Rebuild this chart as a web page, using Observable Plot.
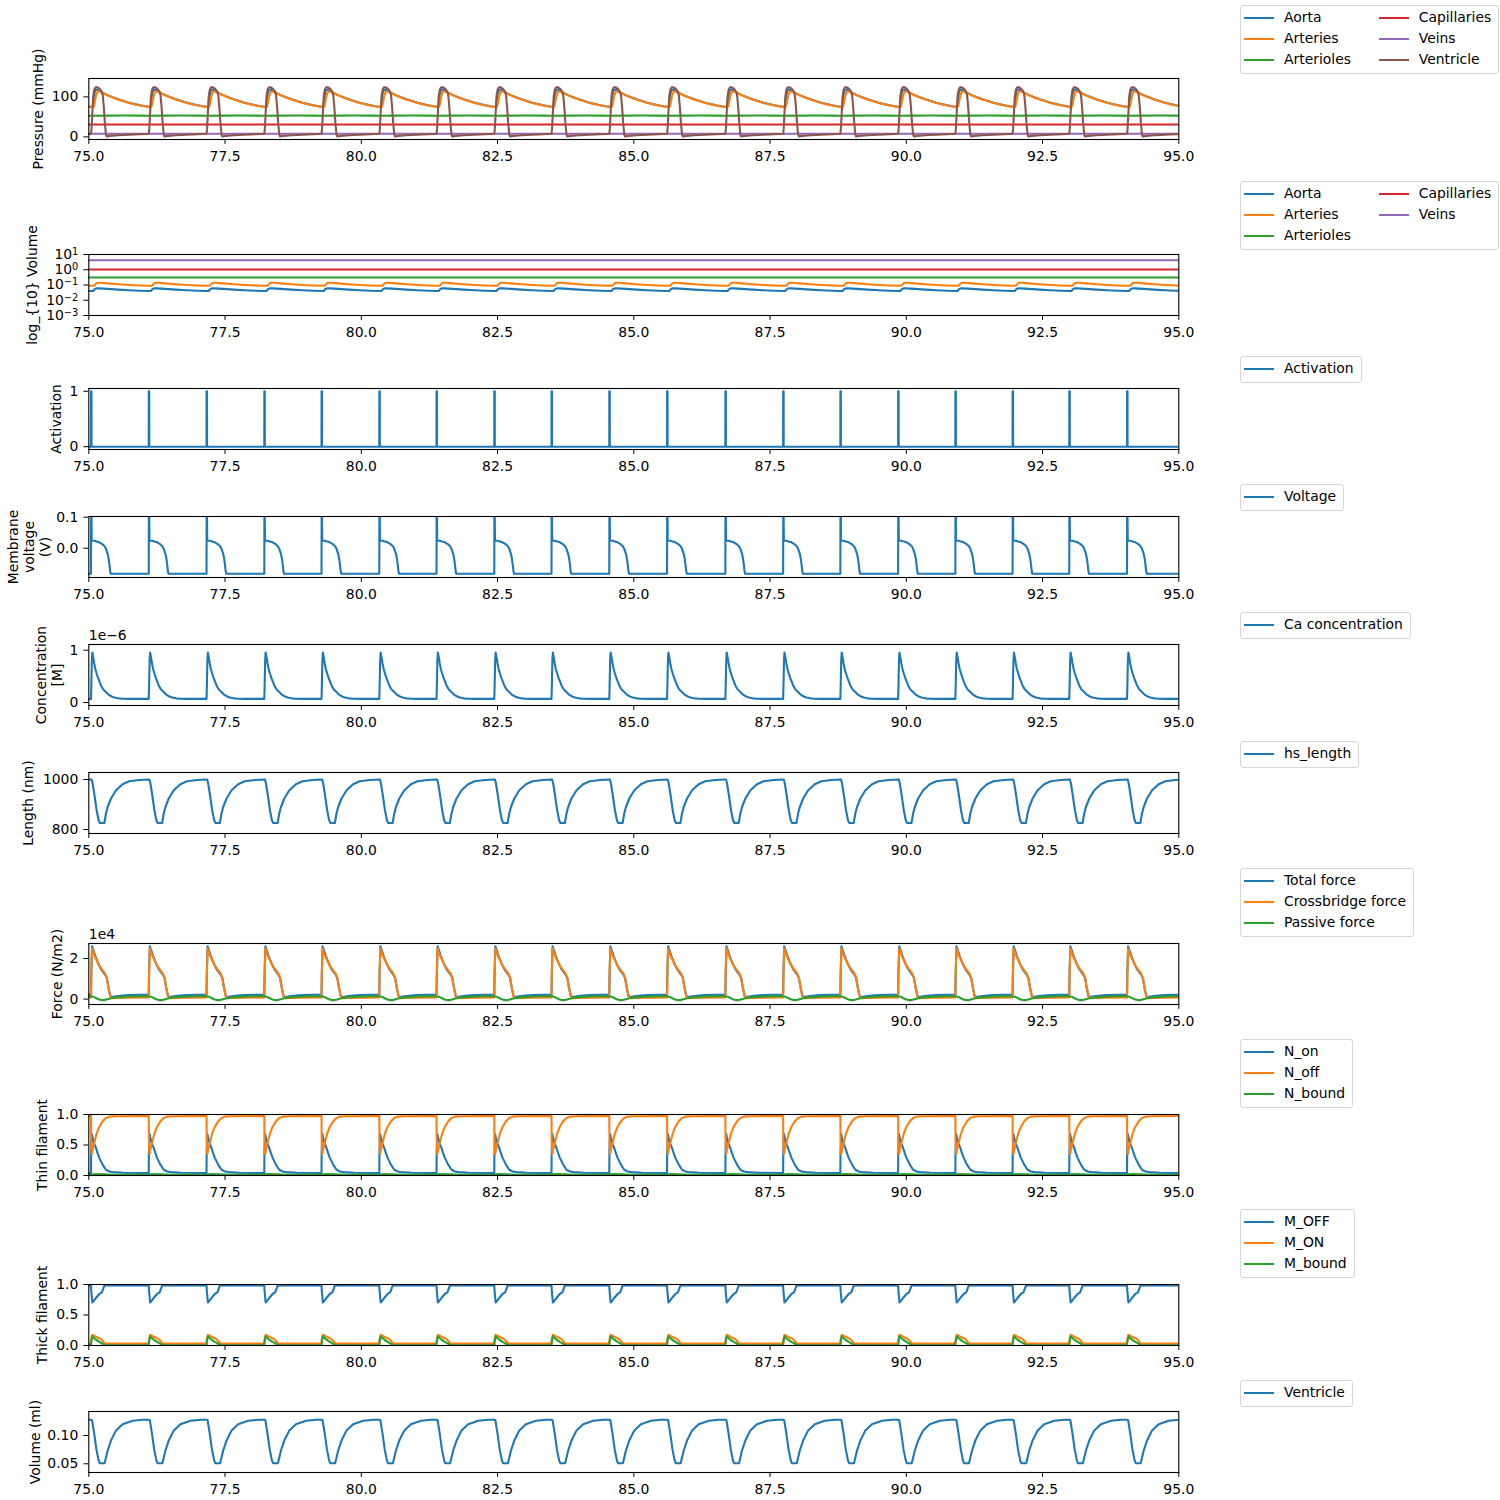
<!DOCTYPE html>
<html><head><meta charset="utf-8">
<script src="https://cdn.jsdelivr.net/npm/d3@7"></script>
<script src="https://cdn.jsdelivr.net/npm/@observablehq/plot@0.6"></script>
<style>
body{margin:0;background:#fff;font-family:"DejaVu Sans",sans-serif;}
#fig{position:relative;width:1500px;height:1500px;overflow:hidden;background:#fff;}
.panel{position:absolute;left:0;}
.legend{position:absolute;box-sizing:border-box;border:1px solid #d6d6d6;border-radius:3px;background:#fff;padding:1px 7px 3px 3px;display:grid;grid-auto-flow:column;column-gap:27.8px;font-size:13.9px;line-height:21px;color:#000;}
.item{display:flex;align-items:center;white-space:nowrap;height:21px;}
.handle{width:30px;height:2px;margin-right:10px;flex:none;}
</style></head><body><div id="fig"></div><script>
// ---------- data ----------
const xTicks = [75, 77.5, 80, 82.5, 85, 87.5, 90, 92.5, 95];
// beat onset times (s)
const beats = [75.04, 76.10, 77.16, 78.22, 79.27, 80.33, 81.38, 82.44, 83.49, 84.55, 85.61, 86.68, 87.74, 88.79, 89.85, 90.90, 91.95, 92.99, 94.05];

// one-beat waveforms: [time after onset (s), value]
const pAorta = [[0,75.5],[0.035,76],[0.05,95],[0.065,110],[0.085,117.5],[0.11,118.5],[0.14,116.5],[0.18,113],[0.22,110],[0.3,104.5],[0.4,99],[0.5,94],[0.6,89.5],[0.7,85.5],[0.8,82],[0.9,79],[1.0,76.5],[1.06,75.5]];
const pArteries = [[0,75],[0.05,75.5],[0.07,88],[0.09,102],[0.11,110.5],[0.13,113.5],[0.16,113.5],[0.2,111],[0.3,104],[0.4,98.5],[0.5,93.5],[0.6,89],[0.7,85],[0.8,81.5],[0.9,78.5],[1.0,76],[1.06,75]];
const pArterioles = [[0,53],[0.3,53.2],[0.6,53.6],[0.9,53.3],[1.06,53]];
const pCapillaries = [[0,31],[1.06,31]];
const pVeins = [[0,8],[1.06,8]];
const pVentricle = [[0,8],[0.01,20],[0.025,60],[0.04,100],[0.06,118],[0.085,124],[0.12,124],[0.16,120],[0.195,114],[0.215,105],[0.235,75],[0.255,35],[0.275,6],[0.29,1],[0.35,2.5],[0.5,4],[0.7,5.5],[0.9,7],[1.06,8]];

const vAorta = [[0,0.040],[0.04,0.0405],[0.06,0.05],[0.08,0.057],[0.11,0.061],[0.15,0.0605],[0.3,0.056],[0.5,0.05],[0.7,0.0455],[0.9,0.042],[1.06,0.040]];
const vArteries = [[0,0.089],[0.06,0.09],[0.08,0.11],[0.1,0.13],[0.13,0.14],[0.17,0.139],[0.3,0.127],[0.5,0.111],[0.7,0.1],[0.9,0.093],[1.06,0.089]];
const vArterioles = [[0,0.31],[1.06,0.31]];
const vCapillaries = [[0,1.05],[1.06,1.05]];
const vVeins = [[0,4.2],[1.06,4.2]];

const activation = [[0,0],[0.001,1],[0.009,1],[0.01,0],[1.06,0]];
const voltage = [[0,-0.0826],[0.002,0.1],[0.009,0.1],[0.013,0.025],[0.06,0.024],[0.1,0.022],[0.153,0.019],[0.214,0.012],[0.25,0.006],[0.275,-0.002],[0.306,-0.018],[0.325,-0.035],[0.338,-0.052],[0.35,-0.072],[0.362,-0.0826],[1.06,-0.0826]];
const calcium = [[0,0.069],[0.006,0.3],[0.016,0.8],[0.025,0.955],[0.04,0.87],[0.06,0.746],[0.08,0.64],[0.104,0.554],[0.13,0.47],[0.153,0.407],[0.18,0.335],[0.214,0.267],[0.245,0.228],[0.275,0.2],[0.31,0.165],[0.336,0.14],[0.38,0.115],[0.43,0.095],[0.5,0.08],[0.58,0.072],[0.7,0.069],[1.06,0.069]];
const hsLength = [[0,1000],[0.012,1000],[0.03,985],[0.06,944],[0.104,877],[0.14,837],[0.165,826],[0.245,826],[0.275,864],[0.306,890],[0.367,924],[0.46,957],[0.58,981],[0.7,993],[0.887,998],[1.06,1000]];

const fTotal = [[0,0.22],[0.006,1.34],[0.02,2.6],[0.05,2.36],[0.08,2.12],[0.14,1.71],[0.19,1.45],[0.23,1.31],[0.26,1.2],[0.29,1.04],[0.32,0.57],[0.355,0.14],[0.39,0.1],[0.46,0.14],[0.58,0.17],[0.7,0.2],[1.06,0.22]];
const fCross = [[0,0.08],[0.006,1.2],[0.02,2.5],[0.05,2.25],[0.08,2.05],[0.14,1.72],[0.19,1.5],[0.23,1.36],[0.26,1.25],[0.29,1.05],[0.32,0.57],[0.355,0.12],[0.39,0.05],[0.5,0.06],[0.7,0.07],[1.06,0.08]];
const fPassive = [[0,0.14],[0.06,0.1],[0.1,0.04],[0.15,-0.02],[0.2,-0.05],[0.25,-0.05],[0.3,-0.01],[0.37,0.04],[0.46,0.08],[0.58,0.11],[0.7,0.13],[0.9,0.14],[1.06,0.14]];

const nOn = [[0,0.04],[0.003,0.4],[0.015,0.68],[0.03,0.62],[0.06,0.52],[0.09,0.455],[0.12,0.37],[0.153,0.289],[0.214,0.178],[0.275,0.094],[0.34,0.065],[0.4,0.055],[0.6,0.045],[1.06,0.04]];
const nOff = [[0,0.975],[0.003,0.6],[0.015,0.35],[0.03,0.42],[0.06,0.538],[0.1,0.678],[0.153,0.8],[0.214,0.888],[0.275,0.944],[0.34,0.965],[0.45,0.972],[1.06,0.975]];
const nBound = [[0,0.012],[0.02,0.02],[0.1,0.025],[0.25,0.018],[0.4,0.012],[1.06,0.012]];

const mOff = [[0,0.985],[0.005,0.9],[0.025,0.705],[0.04,0.72],[0.09,0.778],[0.153,0.845],[0.2,0.872],[0.245,0.98],[0.27,0.985],[1.06,0.985]];
const mOn = [[0,0.03],[0.005,0.1],[0.025,0.175],[0.06,0.16],[0.1,0.14],[0.153,0.12],[0.2,0.09],[0.245,0.04],[0.28,0.03],[1.06,0.03]];
const mBound = [[0,0.005],[0.005,0.06],[0.025,0.15],[0.06,0.12],[0.1,0.09],[0.153,0.06],[0.2,0.035],[0.245,0.01],[0.28,0.005],[1.06,0.005]];

const ventVolume = [[0,0.1277],[0.02,0.127],[0.06,0.103],[0.1,0.075],[0.14,0.056],[0.16,0.051],[0.25,0.051],[0.28,0.063],[0.306,0.0735],[0.367,0.091],[0.46,0.109],[0.58,0.12],[0.765,0.126],[0.95,0.1277],[1.06,0.1277]];

const C = ["#1f77b4","#ff7f0e","#2ca02c","#d62728","#9467bd","#8c564b"];

// ---------- build time series by placing the beat waveform at each onset ----------
function build(tpl){
  const out = [[75, tpl[tpl.length-1][1]]];
  beats.forEach((b,i)=>{
    const next = i+1<beats.length ? beats[i+1] : 95.3;
    for (const [dt,v] of tpl) if (b+dt < next) out.push([b+dt, v]);
  });
  return out;
}

const FS = 13.9, X0 = 88.3, X1 = 1178.3, H = 61;
const fig = document.getElementById("fig");

function panel(cfg){
  const mt = 26, mb = 34;
  const marks = [];
  cfg.series.forEach(s => marks.push(Plot.line(build(s.tpl), {x: d=>d[0], y: d=>d[1], stroke: s.color, strokeWidth: 2.1, strokeLinejoin: "round", clip: "frame"})));
  marks.push(Plot.axisX({ticks: xTicks, tickFormat: d=>d.toFixed(1), tickSize: 4.9, tickPadding: 6.5, fontSize: FS, label: null}));
  marks.push(Plot.axisY({anchor: "left", ticks: cfg.ticks, tickFormat: cfg.fmt, tickSize: 4.9, tickPadding: 5.6, fontSize: FS, label: null}));
  marks.push(Plot.frame({stroke: "#000", strokeWidth: 1.1}));
  marks.push(Plot.text([cfg.label], {text: d=>d, frameAnchor: "left", dx: cfg.labelX - X0, rotate: -90, textAnchor: "middle", lineAnchor: "middle", lineHeight: 1.17, fontSize: FS, fill: "#000"}));
  if (cfg.offset) marks.push(Plot.text([cfg.offset], {text: d=>d, frameAnchor: "top-left", textAnchor: "start", lineAnchor: "bottom", dy: -5, fontSize: FS, fill: "#000"}));
  const svg = Plot.plot({
    width: 1500, height: H + mt + mb,
    marginTop: mt, marginBottom: mb, marginLeft: X0, marginRight: 1500 - X1,
    style: {fontFamily: "DejaVu Sans", fontSize: FS + "px", background: "transparent", overflow: "visible", color: "#000"},
    x: {domain: [75, 95]},
    y: {type: cfg.type || "linear", domain: cfg.domain},
    marks
  });
  svg.classList.add("panel");
  svg.style.top = (cfg.top - mt) + "px";
  if (cfg.post) cfg.post(svg);
  fig.appendChild(svg);
}

function legend(items, left, top, ncol){
  const d = document.createElement("div");
  d.className = "legend";
  d.style.left = left + "px"; d.style.top = top + "px";
  const rows = Math.ceil(items.length / (ncol||1));
  d.style.gridTemplateRows = `repeat(${rows}, 21px)`;
  items.forEach(([name,color])=>{
    const it = document.createElement("div"); it.className = "item";
    const h = document.createElement("span"); h.className = "handle"; h.style.background = color;
    const t = document.createElement("span"); t.textContent = name;
    it.appendChild(h); it.appendChild(t); d.appendChild(it);
  });
  fig.appendChild(d);
}

// ---------- panels ----------
panel({top: 78.3, domain: [-6.5, 146], ticks: [0, 100], fmt: d=>String(d), label: "Pressure (mmHg)", labelX: 37.5,
  series: [{tpl:pAorta,color:C[0]},{tpl:pArteries,color:C[1]},{tpl:pArterioles,color:C[2]},{tpl:pCapillaries,color:C[3]},{tpl:pVeins,color:C[4]},{tpl:pVentricle,color:C[5]}]});
const logExp = [-3, -2, -1, 0, 1];
panel({top: 254.3, type: "log", domain: [1e-3, 10], ticks: logExp.map(e=>Math.pow(10,e)), fmt: d=>"10^" + Math.round(Math.log10(d)), label: "log_{10} Volume", labelX: 31,
  series: [{tpl:vAorta,color:C[0]},{tpl:vArteries,color:C[1]},{tpl:vArterioles,color:C[2]},{tpl:vCapillaries,color:C[3]},{tpl:vVeins,color:C[4]}],
  post: svg => {
    svg.querySelectorAll('g[aria-label="y-axis tick label"] text').forEach(t=>{
      const s = t.textContent; const m = s.match(/^10\^(-?\d+)$/);
      if (!m) return;
      const e = m[1].replace("-", "\u2212");
      t.textContent = "10";
      const ts = document.createElementNS("http://www.w3.org/2000/svg","tspan");
      ts.setAttribute("dy","-0.42em"); ts.setAttribute("font-size","9.8px"); ts.textContent = e;
      t.appendChild(ts);
    });
  }});
panel({top: 388.3, domain: [-0.05, 1.05], ticks: [0, 1], fmt: d=>String(d), label: "Activation", labelX: 55.5,
  series: [{tpl:activation,color:C[0]}]});
panel({top: 516, domain: [-0.0945, 0.1023], ticks: [0, 0.1], fmt: d=>d.toFixed(1), label: "Membrane\nvoltage\n(V)", labelX: 28.5,
  series: [{tpl:voltage,color:C[0]}]});
panel({top: 644.3, domain: [-0.057, 1.109], ticks: [0, 1], fmt: d=>String(d), label: "Concentration\n[M]", labelX: 48.3, offset: "1e\u22126",
  series: [{tpl:calcium,color:C[0]}]});
panel({top: 772.3, domain: [784, 1028], ticks: [800, 1000], fmt: d=>String(d), label: "Length (nm)", labelX: 27.5,
  series: [{tpl:hsLength,color:C[0]}]});
panel({top: 942.7, domain: [-0.266, 2.739], ticks: [0, 2], fmt: d=>String(d), label: "Force (N/m2)", labelX: 56, offset: "1e4",
  series: [{tpl:fTotal,color:C[0]},{tpl:fCross,color:C[1]},{tpl:fPassive,color:C[2]}]});
panel({top: 1113.5, domain: [0, 1], ticks: [0, 0.5, 1], fmt: d=>d.toFixed(1), label: "Thin filament", labelX: 41.5,
  series: [{tpl:nOn,color:C[0]},{tpl:nOff,color:C[1]},{tpl:nBound,color:C[2]}]});
panel({top: 1283.5, domain: [0, 1], ticks: [0, 0.5, 1], fmt: d=>d.toFixed(1), label: "Thick filament", labelX: 41.5,
  series: [{tpl:mOff,color:C[0]},{tpl:mOn,color:C[1]},{tpl:mBound,color:C[2]}]});
panel({top: 1411, domain: [0.0346, 0.1424], ticks: [0.05, 0.1], fmt: d=>d.toFixed(2), label: "Volume (ml)", labelX: 34,
  series: [{tpl:ventVolume,color:C[0]}]});

// ---------- legends ----------
legend([["Aorta",C[0]],["Arteries",C[1]],["Arterioles",C[2]],["Capillaries",C[3]],["Veins",C[4]],["Ventricle",C[5]]], 1240, 5, 2);
legend([["Aorta",C[0]],["Arteries",C[1]],["Arterioles",C[2]],["Capillaries",C[3]],["Veins",C[4]]], 1240, 181, 2);
legend([["Activation",C[0]]], 1240, 356);
legend([["Voltage",C[0]]], 1240, 484);
legend([["Ca concentration",C[0]]], 1240, 612);
legend([["hs_length",C[0]]], 1240, 741);
legend([["Total force",C[0]],["Crossbridge force",C[1]],["Passive force",C[2]]], 1240, 868);
legend([["N_on",C[0]],["N_off",C[1]],["N_bound",C[2]]], 1240, 1039);
legend([["M_OFF",C[0]],["M_ON",C[1]],["M_bound",C[2]]], 1240, 1209);
legend([["Ventricle",C[0]]], 1240, 1380);
</script></body></html>
